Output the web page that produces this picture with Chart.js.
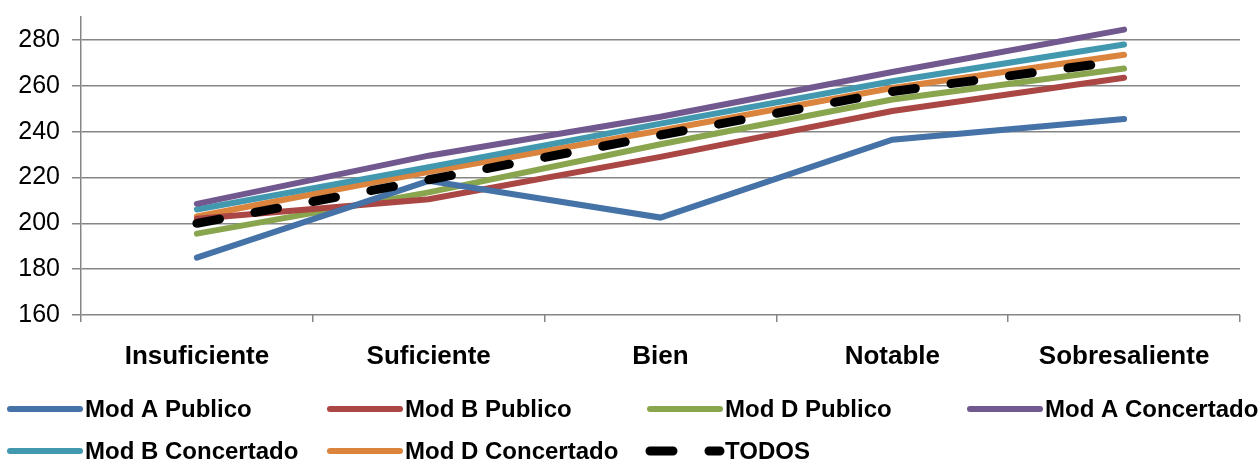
<!DOCTYPE html>
<html>
<head>
<meta charset="utf-8">
<script src="https://cdn.jsdelivr.net/npm/chart.js@4.4.1/dist/chart.umd.min.js"></script>
<style>
  html, body { margin: 0; padding: 0; background: #fff; }
  #wrap { width: 1259px; height: 461px; }
</style>
</head>
<body>
<div id="wrap"><canvas id="chart" width="1259" height="461"></canvas></div>
<script>
// Values
const categories = ['Insuficiente', 'Suficiente', 'Bien', 'Notable', 'Sobresaliente'];
const modAPublico = [185, 218.5, 202.5, 236.5, 245.5];
const modBPublico = [202, 210.5, 229, 249, 263.5];
const modDPublico = [195.5, 213.5, 234.5, 254, 267.5];
const modAConcertado = [208.5, 229.5, 246.5, 266, 284.5];
const modBConcertado = [206, 224.5, 243.5, 262, 278];
const modDConcertado = [203, 222.5, 240.5, 259, 273.5];
const todos = [200, 219, 238.5, 257.5, 271];
const yTicks = [160, 180, 200, 220, 240, 260, 280];

function line(label, data, color) {
    return {
        label: label,
        data: data,
        borderColor: color,
        backgroundColor: color,
        borderWidth: 6,
        pointRadius: 0,
        tension: 0,
        borderCapStyle: 'round',
        order: 1
    };
}

// legend drawn on the canvas in a fixed 4 column grid
const gridLegend = {
    id: 'gridLegend',
    afterDraw(chart) {
        const c = chart.ctx;
        const sets = chart.data.datasets;
        c.save();
        c.font = 'bold 24px "Liberation Sans", Arial, sans-serif';
        c.textBaseline = 'middle';
        c.fillStyle = '#000';
        sets.forEach(function(ds, i) {
            const col = i % 4, row = Math.floor(i / 4);
            const x0 = 10 + col * 320;
            const y = 409 + row * 42;
            c.beginPath();
            c.strokeStyle = ds.borderColor;
            c.lineWidth = ds.borderWidth;
            c.lineCap = 'round';
            c.setLineDash(ds.borderDash || []);
            c.moveTo(x0, y);
            c.lineTo(x0 + 70, y);
            c.stroke();
            c.setLineDash([]);
            c.fillText(ds.label, x0 + 75, y + 1);
        });
        c.restore();
    }
};

const ctx = document.getElementById('chart').getContext('2d');
const chart = new Chart(ctx, {
    type: 'line',
    data: {
        labels: categories,
        datasets: [
            line('Mod A Publico', modAPublico, '#4572A7'),
            line('Mod B Publico', modBPublico, '#AA4643'),
            line('Mod D Publico', modDPublico, '#89A54E'),
            line('Mod A Concertado', modAConcertado, '#71588F'),
            line('Mod B Concertado', modBConcertado, '#4198AF'),
            line('Mod D Concertado', modDConcertado, '#DB843D'),
            {
                label: 'TODOS',
                data: todos,
                borderColor: '#000000',
                backgroundColor: '#000000',
                borderWidth: 9,
                borderDash: [23, 36],
                borderCapStyle: 'round',
                pointRadius: 0,
                tension: 0,
                order: 0
            }
        ]
    },
    options: {
        responsive: false,
        animation: false,
        layout: {
            padding: { top: 17, right: 19, bottom: 0, left: 0 }
        },
        plugins: {
            legend: { display: false },
            tooltip: { enabled: false }
        },
        scales: {
            x: {
                offset: true,
                grid: {
                    offset: true,
                    drawOnChartArea: false,
                    drawTicks: true,
                    tickLength: 7,
                    color: '#868686',
                    lineWidth: 1.5
                },
                border: { display: false },
                ticks: {
                    color: '#000',
                    padding: 19,
                    maxRotation: 0,
                    font: { family: '"Liberation Sans", Arial, sans-serif', size: 26, weight: 'bold' }
                },
                afterFit: function(scale) { scale.height = 146; }
            },
            y: {
                min: 160,
                max: 290,
                ticks: {
                    stepSize: 20,
                    color: '#000',
                    padding: 12,
                    font: { family: '"Liberation Sans", Arial, sans-serif', size: 25 }
                },
                afterBuildTicks: function(scale) {
                    scale.ticks = yTicks.map(function(v) { return { value: v }; });
                },
                grid: {
                    color: '#868686',
                    lineWidth: 1.5,
                    tickLength: 9
                },
                border: { display: true, color: '#868686', width: 1.5 },
                afterFit: function(scale) {
                    scale.width = 81;
                    scale.paddingTop = 0;
                    scale.paddingBottom = 0;
                }
            }
        }
    },
    plugins: [gridLegend]
});
</script>
</body>
</html>
